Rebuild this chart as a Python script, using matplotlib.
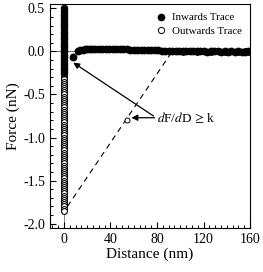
import matplotlib
matplotlib.use('Agg')
import matplotlib.pyplot as plt
from matplotlib.ticker import MultipleLocator

plt.rcParams['font.family'] = 'serif'
plt.rcParams['font.serif'] = ['Liberation Serif', 'DejaVu Serif']
plt.rcParams['mathtext.fontset'] = 'stix'

# inwards trace (filled): contact band at D = 0, then the approach curve
inw_band_y = [0.50, 0.47, 0.44, 0.41, 0.38, 0.35, 0.32, 0.29, 0.26, 0.23, 0.20,
              0.17, 0.14, 0.11, 0.08, 0.05, 0.02, -0.01, -0.04, -0.07, -0.10,
              -0.13, -0.16, -0.19, -0.22, -0.25]
inw_curve_x = [8, 12, 14, 16, 18, 20, 22, 24, 27, 30, 33, 36, 39, 42, 45, 48, 51,
               54, 57, 60, 63, 66, 69, 72, 75, 78, 81, 84, 87, 90, 93, 96, 99, 102,
               105, 108, 111, 114, 117, 120, 123, 126, 129, 132, 135, 138, 141,
               144, 147, 150, 153, 156, 158]
inw_curve_y = [-0.07, 0.0, 0.012, 0.02, 0.026, 0.03, 0.032, 0.033, 0.032, 0.031,
               0.03, 0.03, 0.031, 0.029, 0.027, 0.027, 0.025, 0.024, 0.022, 0.021,
               0.02, 0.018, 0.017, 0.016, 0.014, 0.012, 0.012, 0.01, 0.008, 0.007,
               0.006, 0.004, 0.003, 0.003, 0.002, 0.0, 0.0, 0.001, 0.0, 0.0, -0.002,
               0.0, 0.0, 0.001, -0.002, 0.0, -0.003, 0.0, -0.002, 0.0, -0.002,
               -0.003, 0.0]

# outwards trace (open): pull-off down the contact line, then back at zero
out_band_y = [0.0, -0.025, -0.05, -0.075, -0.10, -0.125, -0.15, -0.175, -0.20,
              -0.225, -0.25, -0.275, -0.30, -0.325, -0.35, -0.375, -0.40, -0.425,
              -0.45, -0.475, -0.50, -0.525, -0.55, -0.575, -0.60, -0.625, -0.65,
              -0.675, -0.70, -0.725, -0.75, -0.775, -0.80, -0.825, -0.85, -0.875,
              -0.90, -0.925, -0.95, -0.975, -1.00, -1.025, -1.05, -1.075, -1.10,
              -1.125, -1.15, -1.175, -1.20, -1.225, -1.25, -1.275, -1.30, -1.325,
              -1.35, -1.375, -1.40, -1.425, -1.45, -1.475, -1.50, -1.525, -1.55,
              -1.575, -1.60, -1.625, -1.65, -1.675, -1.70, -1.725, -1.75, -1.775,
              -1.80, -1.825, -1.85]
out_flat_x = [96, 102, 108, 114, 120, 126, 132, 138, 144, 150, 156, 159]
out_flat_y = [0.0, -0.005, 0.0, -0.005, 0.0, -0.005, 0.0, -0.005, 0.0, -0.005, 0.0, -0.005]

# spring-constant line and the instability point on it
spring_x = [3, 93]
spring_y = [-1.80, 0.0]
jump_x, jump_y = 54, -0.80

fig = plt.figure(figsize=(2.63, 2.72), dpi=100)
ax = fig.add_axes([0.19, 0.162, 0.761, 0.823])

ax.axhline(0, color='0.35', lw=0.6, zorder=1)
ax.axvline(0, color='0.45', lw=0.6, zorder=1)
ax.plot(spring_x, spring_y, ls=(0, (5, 4)), color='black', lw=0.8, zorder=2)

ax.plot([0] * len(out_band_y), out_band_y, 'o', ms=4.2, mfc='white', mec='black',
        mew=0.8, ls='none', zorder=3)
ax.plot(out_flat_x, out_flat_y, 'o', ms=4.2, mfc='white', mec='black', mew=0.7,
        ls='none', zorder=3)
ax.plot(jump_x, jump_y, 'o', ms=3.6, mfc='white', mec='black', mew=0.7, zorder=3)

ax.plot([0] * len(inw_band_y), inw_band_y, 'o', ms=4.4, color='black', ls='none', zorder=4)
ax.plot(inw_curve_x, inw_curve_y, 'o', ms=4.6, color='black', ls='none', zorder=4)

arrow = dict(arrowstyle='-|>', color='black', lw=0.9, mutation_scale=9, shrinkA=0, shrinkB=0)
ax.annotate('', xy=(58, -0.77), xytext=(78, -0.77), arrowprops=arrow)
ax.annotate('', xy=(8, -0.13), xytext=(77, -0.75), arrowprops=arrow)
ax.text(80, -0.77, r'$d$F/$d$D$\,\geq\,$k', fontsize=9.5, va='center', ha='left')

ax.plot([], [], 'o', ms=4.5, color='black', ls='none', label='Inwards Trace')
ax.plot([], [], 'o', ms=4.5, mfc='white', mec='black', mew=0.7, ls='none',
        label='Outwards Trace')
ax.legend(loc='upper right', frameon=False, fontsize=7.8, handletextpad=0.5,
          borderaxespad=0.4, labelspacing=0.4, handlelength=1.0)

ax.set_xlim(-12, 160)
ax.set_ylim(-2.05, 0.55)
ax.xaxis.set_major_locator(MultipleLocator(40))
ax.xaxis.set_minor_locator(MultipleLocator(5))
ax.yaxis.set_major_locator(MultipleLocator(0.5))
ax.yaxis.set_minor_locator(MultipleLocator(0.1))
ax.yaxis.set_major_formatter(plt.FuncFormatter(lambda v, p: f'{v:.1f}'))
ax.tick_params(which='both', direction='in', top=False, right=False, labelsize=10)
ax.tick_params(which='major', length=4, width=0.8)
ax.tick_params(which='minor', length=2.5, width=0.7)
for s in ax.spines.values():
    s.set_linewidth(0.8)

ax.set_xlabel('Distance (nm)', fontsize=11, labelpad=1)
ax.set_ylabel('Force (nN)', fontsize=11, labelpad=2)

fig.savefig('out.png', dpi=100)
